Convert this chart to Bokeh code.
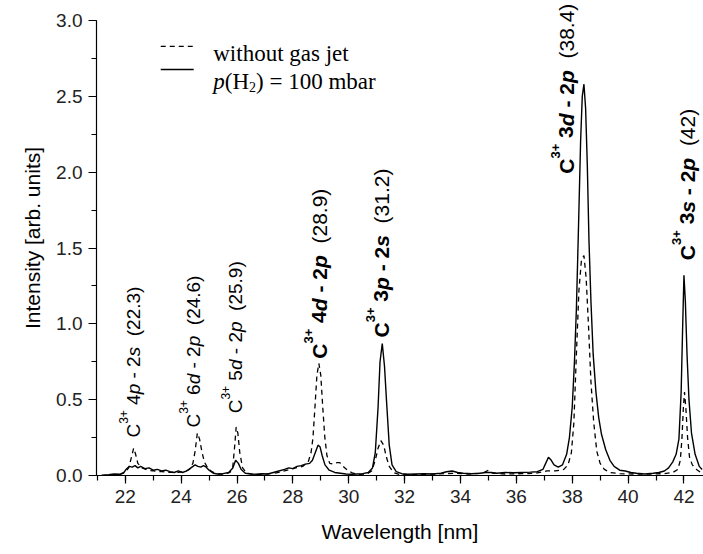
import math
from bokeh.plotting import figure
from bokeh.models import (Range1d, SingleIntervalTicker, NumeralTickFormatter,
                          ColumnDataSource, Arrow)
from bokeh.core.properties import value, field
from bokeh.embed import file_html
from bokeh.resources import INLINE

# ---------------- data ----------------
# p(H2) = 100 mbar (solid)
wl_jet = [21.15, 21.4, 21.6, 21.8, 21.95, 22.05, 22.15, 22.25, 22.35, 22.45, 22.55, 22.7, 22.85,
          23.0, 23.15, 23.3, 23.45, 23.6, 23.75, 23.9, 24.05, 24.2, 24.35, 24.5, 24.6, 24.7, 24.8,
          24.9, 25.0, 25.15, 25.3, 25.5, 25.7, 25.85, 25.95, 26.05, 26.15, 26.3, 26.5, 26.7, 26.9,
          27.1, 27.3, 27.5, 27.7, 27.85, 28.0, 28.15, 28.3, 28.45, 28.6, 28.7, 28.8, 28.9, 28.97,
          29.05, 29.15, 29.3, 29.5, 29.7, 29.9, 30.1, 30.3, 30.5, 30.7, 30.85, 30.95, 31.05, 31.12,
          31.2, 31.28, 31.35, 31.45, 31.55, 31.7, 31.9, 32.1, 32.4, 32.7, 33.0, 33.3, 33.5, 33.7,
          33.9, 34.1, 34.4, 34.7, 34.9, 35.1, 35.3, 35.6, 35.9, 36.2, 36.5, 36.75, 36.95, 37.05,
          37.15, 37.25, 37.35, 37.5, 37.65, 37.8, 37.9, 38.0, 38.08, 38.15, 38.22, 38.3, 38.36,
          38.42, 38.48, 38.54, 38.6, 38.67, 38.75, 38.85, 38.95, 39.05, 39.2, 39.35, 39.5, 39.7,
          39.9, 40.1, 40.3, 40.6, 40.9, 41.1, 41.3, 41.45, 41.6, 41.72, 41.82, 41.9, 41.95, 42.0,
          42.05, 42.11, 42.18, 42.27, 42.4, 42.55, 42.65]
int_jet = [0.0, 0.005, 0.01, 0.008, 0.02, 0.045, 0.06, 0.055, 0.065, 0.05, 0.06, 0.045, 0.05,
           0.035, 0.04, 0.03, 0.035, 0.025, 0.02, 0.03, 0.02, 0.03, 0.05, 0.07, 0.06, 0.055, 0.065,
           0.055, 0.035, 0.015, 0.01, 0.012, 0.02, 0.05, 0.1, 0.08, 0.04, 0.015, 0.01, 0.008, 0.012,
           0.01, 0.02, 0.03, 0.04, 0.05, 0.045, 0.06, 0.065, 0.075, 0.08, 0.1, 0.15, 0.2, 0.19,
           0.13, 0.07, 0.035, 0.02, 0.015, 0.01, 0.008, 0.01, 0.012, 0.02, 0.05, 0.15, 0.45, 0.75,
           0.87, 0.72, 0.5, 0.2, 0.07, 0.025, 0.012, 0.008, 0.01, 0.012, 0.01, 0.015, 0.025, 0.03,
           0.02, 0.015, 0.012, 0.015, 0.02, 0.02, 0.015, 0.02, 0.018, 0.02, 0.022, 0.025, 0.04, 0.08,
           0.12, 0.1, 0.07, 0.055, 0.07, 0.14, 0.25, 0.45, 0.75, 1.1, 1.6, 2.2, 2.5,
           2.58, 2.42, 2.05, 1.55, 1.15, 0.8, 0.55, 0.38, 0.27, 0.17, 0.1, 0.06, 0.035,
           0.03, 0.02, 0.015, 0.01, 0.015, 0.02, 0.03, 0.05, 0.09, 0.14, 0.24, 0.55, 0.95, 1.32,
           1.15, 0.8, 0.5, 0.28, 0.14, 0.06, 0.04]

# without gas jet (dashed)
wl_nojet = [21.15, 21.5, 21.8, 22.0, 22.12, 22.22, 22.3, 22.37, 22.45, 22.6, 22.8, 23.0, 23.3,
            23.6, 23.9, 24.1, 24.3, 24.42, 24.5, 24.58, 24.66, 24.74, 24.83, 24.95, 25.1, 25.3,
            25.55, 25.75, 25.85, 25.92, 25.97, 26.03, 26.1, 26.2, 26.35, 26.6, 26.9, 27.2, 27.5,
            27.8, 28.1, 28.35, 28.55, 28.65, 28.72, 28.79, 28.86, 28.93, 29.0, 29.07, 29.14, 29.22,
            29.32, 29.45, 29.58, 29.68, 29.8, 29.95, 30.15, 30.4, 30.65, 30.82, 30.95, 31.05, 31.15,
            31.25, 31.35, 31.45, 31.6, 31.8, 32.2, 32.8, 33.4, 33.8, 34.3, 34.8, 35.0, 35.15, 35.6,
            36.2, 36.7, 37.1, 37.4, 37.7, 37.85, 37.97, 38.06, 38.15, 38.24, 38.33, 38.42, 38.5,
            38.58, 38.67, 38.77, 38.88, 39.0, 39.15, 39.35, 39.7, 40.2, 40.8, 41.3, 41.6, 41.78,
            41.87, 41.93, 41.98, 42.02, 42.07, 42.13, 42.2, 42.3, 42.45, 42.6]
int_nojet = [0.0, 0.005, 0.005, 0.02, 0.05, 0.12, 0.18, 0.14, 0.08, 0.05, 0.035, 0.03, 0.025,
             0.02, 0.02, 0.025, 0.04, 0.08, 0.16, 0.28, 0.24, 0.16, 0.09, 0.05, 0.025, 0.01,
             0.01, 0.02, 0.06, 0.2, 0.32, 0.28, 0.15, 0.05, 0.015, 0.008, 0.008, 0.012, 0.02,
             0.035, 0.05, 0.06, 0.09, 0.15, 0.25, 0.45, 0.66, 0.74, 0.66, 0.45, 0.26, 0.13,
             0.08, 0.075, 0.085, 0.085, 0.06, 0.035, 0.015, 0.008, 0.01, 0.03, 0.1, 0.18, 0.23,
             0.2, 0.12, 0.06, 0.02, 0.008, 0.005, 0.008, 0.012, 0.015, 0.01, 0.015, 0.035, 0.015, 0.01,
             0.012, 0.015, 0.03, 0.03, 0.04, 0.07, 0.15, 0.35, 0.8, 1.22, 1.42, 1.45, 1.3,
             1.0, 0.62, 0.35, 0.16, 0.08, 0.04, 0.02, 0.012, 0.01, 0.01, 0.012, 0.02, 0.04,
             0.1, 0.25, 0.45, 0.55, 0.44, 0.25, 0.12, 0.07, 0.04, 0.02]

# line annotations: C3+ n l - 2 l'  (wavelength)
ann_lambda = ["22.3", "24.6", "25.9", "28.9", "31.2", "38.4", "42"]
ann_upper_n = ["4", "6", "5", "4", "3", "3", "3"]
ann_upper_l = ["p", "d", "d", "d", "p", "d", "s"]
ann_lower_n = ["2", "2", "2", "2", "2", "2", "2"]
ann_lower_l = ["s", "p", "p", "p", "s", "p", "p"]
ann_bold = [False, False, False, True, True, True, True]
ann_x = [22.29, 24.44, 25.94, 28.92, 31.14, 37.77, 42.09]
ann_y = [0.25, 0.316, 0.41, 0.77, 0.91, 1.99, 1.42]

legend_labels = ["without gas jet", "p(H2) = 100 mbar"]

# ---------------- figure ----------------
Y_TOP = 3.0
p = figure(width=703, height=554, output_backend="svg", toolbar_location=None,
           x_range=Range1d(20.97, 42.7), y_range=Range1d(0, 3.132),
           min_border_left=96, min_border_right=0, min_border_top=0, min_border_bottom=79)
p.outline_line_color = None
p.grid.visible = False
p.background_fill_color = "white"
p.border_fill_color = "white"

DASH = "5 4"
p.line(wl_nojet, int_nojet, line_color="black", line_width=1.3, line_dash=DASH)
p.line(wl_jet, int_jet, line_color="black", line_width=1.4)

for ax in (p.xaxis[0], p.yaxis[0]):
    ax.axis_line_color = "black"
    ax.axis_line_width = 1.2
    ax.major_tick_line_color = "black"
    ax.minor_tick_line_color = "black"
    ax.major_tick_line_width = 1.2
    ax.minor_tick_line_width = 1.2
    ax.major_tick_in = 0
    ax.major_tick_out = 8
    ax.minor_tick_in = 0
    ax.minor_tick_out = 5
    ax.major_label_text_font = "Liberation Sans"
    ax.major_label_text_font_size = "19px"
    ax.major_label_text_color = "#222222"
    ax.axis_label_text_font = "Liberation Sans"
    ax.axis_label_text_font_size = "21px"
    ax.axis_label_text_font_style = "normal"
    ax.axis_label_text_color = "black"
    ax.major_label_standoff = 6

p.xaxis.ticker = SingleIntervalTicker(interval=2, num_minor_ticks=2)
p.yaxis.ticker = SingleIntervalTicker(interval=0.5, num_minor_ticks=2)
p.yaxis.bounds = (0, Y_TOP)
p.yaxis.formatter = NumeralTickFormatter(format="0.0")
p.xaxis.axis_label = "Wavelength [nm]"
p.yaxis.axis_label = "Intensity [arb. units]"
p.xaxis.axis_label_standoff = 14
p.yaxis.axis_label_standoff = 9

# ---------------- rotated line labels ----------------
REG = {' ': .278, '(': .333, ')': .333, '.': .278, '-': .333, '+': .584, 'C': .722,
       'd': .556, 'p': .556, 's': .5}
BLD = {' ': .278, '(': .333, ')': .333, '.': .278, '-': .333, '+': .584, 'C': .722,
       'd': .611, 'p': .611, 's': .556}
SP = 0.278

def width(s, table):
    return sum(table.get(c, 0.556) for c in s)

src = dict(x=[], y=[], text=[], size=[], style=[], xo=[], yo=[])
for i in range(len(ann_lambda)):
    bold = ann_bold[i]
    F = 21 if bold else 19
    tb = BLD if bold else REG
    wt = "bold" if bold else "normal"
    it = "bold italic" if bold else "italic"
    sF = round(0.62 * F)
    # (text, style, size, rise, width table, gap after in em)
    pieces = [("C", wt, F, 0.0, tb, 0),
              ("3+", wt, sF, 0.5 * F, tb, SP),
              (ann_upper_n[i], wt, F, 0.0, tb, 0),
              (ann_upper_l[i], it, F, 0.0, tb, SP),
              ("- " + ann_lower_n[i], wt, F, 0.0, tb, 0),
              (ann_lower_l[i], it, F, 0.0, tb, 2 * SP),
              ("(" + ann_lambda[i] + ")", "normal", F, 0.0, REG, 0)]
    cum = 0.0
    for txt, sty, size, rise, table, gap in pieces:
        src["x"].append(ann_x[i])
        src["y"].append(ann_y[i])
        src["text"].append(txt)
        src["size"].append(f"{size}px")
        src["style"].append(sty)
        src["xo"].append(0.36 * F - 7 - rise)
        src["yo"].append(-cum)
        cum += width(txt, table) * size + gap * F
p.text(x="x", y="y", text="text", source=ColumnDataSource(src), angle=math.pi / 2,
       text_font=value("Liberation Sans"), text_font_size=field("size"),
       text_font_style=field("style"), x_offset="xo", y_offset="yo",
       text_align="left", text_baseline="alphabetic", text_color="black")

# ---------------- legend (manual) ----------------
TIMES = {' ': .25, '(': .333, ')': .333, 'H': .722, '2': .5, '=': .564, '1': .5, '0': .5,
         'm': .778, 'b': .5, 'a': .444, 'r': .333, 'p': .5, 'w': .722, 'i': .278, 't': .278,
         'h': .5, 'o': .5, 'u': .5, 'g': .5, 's': .389, 'j': .278, 'e': .444}
LF = 23
leg_x0, leg_x1 = 23.27, 24.45
leg_tx = 25.15
p.add_layout(Arrow(end=None, x_start=leg_x0, x_end=leg_x1, y_start=2.83, y_end=2.83,
                   line_color="black", line_width=1.3, line_dash=DASH))
p.add_layout(Arrow(end=None, x_start=leg_x0, x_end=leg_x1, y_start=2.677, y_end=2.677,
                   line_color="black", line_width=1.3))
lsrc = dict(x=[], y=[], text=[], size=[], style=[], xo=[], yo=[])
def add_leg(txt, y, sty, size, xo, yo):
    lsrc["x"].append(leg_tx); lsrc["y"].append(y); lsrc["text"].append(txt)
    lsrc["size"].append(f"{size}px"); lsrc["style"].append(sty)
    lsrc["xo"].append(xo); lsrc["yo"].append(yo)
add_leg(legend_labels[0], 2.782, "normal", LF, 0, 0)
lab = legend_labels[1]
cx = 0.0
leg_pieces = [(lab[0], "italic", LF, 0), (lab[1:3], "normal", LF, 0),
              (lab[3], "normal", round(0.62 * LF), 0.22 * LF), (lab[4:], "normal", LF, 0)]
for txt, sty, size, drop in leg_pieces:
    add_leg(txt, 2.598, sty, size, cx, drop)
    cx += width(txt, TIMES) * size
p.text(x="x", y="y", text="text", source=ColumnDataSource(lsrc),
       text_font=value("Liberation Serif"), text_font_size=field("size"),
       text_font_style=field("style"), x_offset="xo", y_offset="yo",
       text_align="left", text_baseline="alphabetic", text_color="black")

open("out.html", "w").write(file_html(p, INLINE))
